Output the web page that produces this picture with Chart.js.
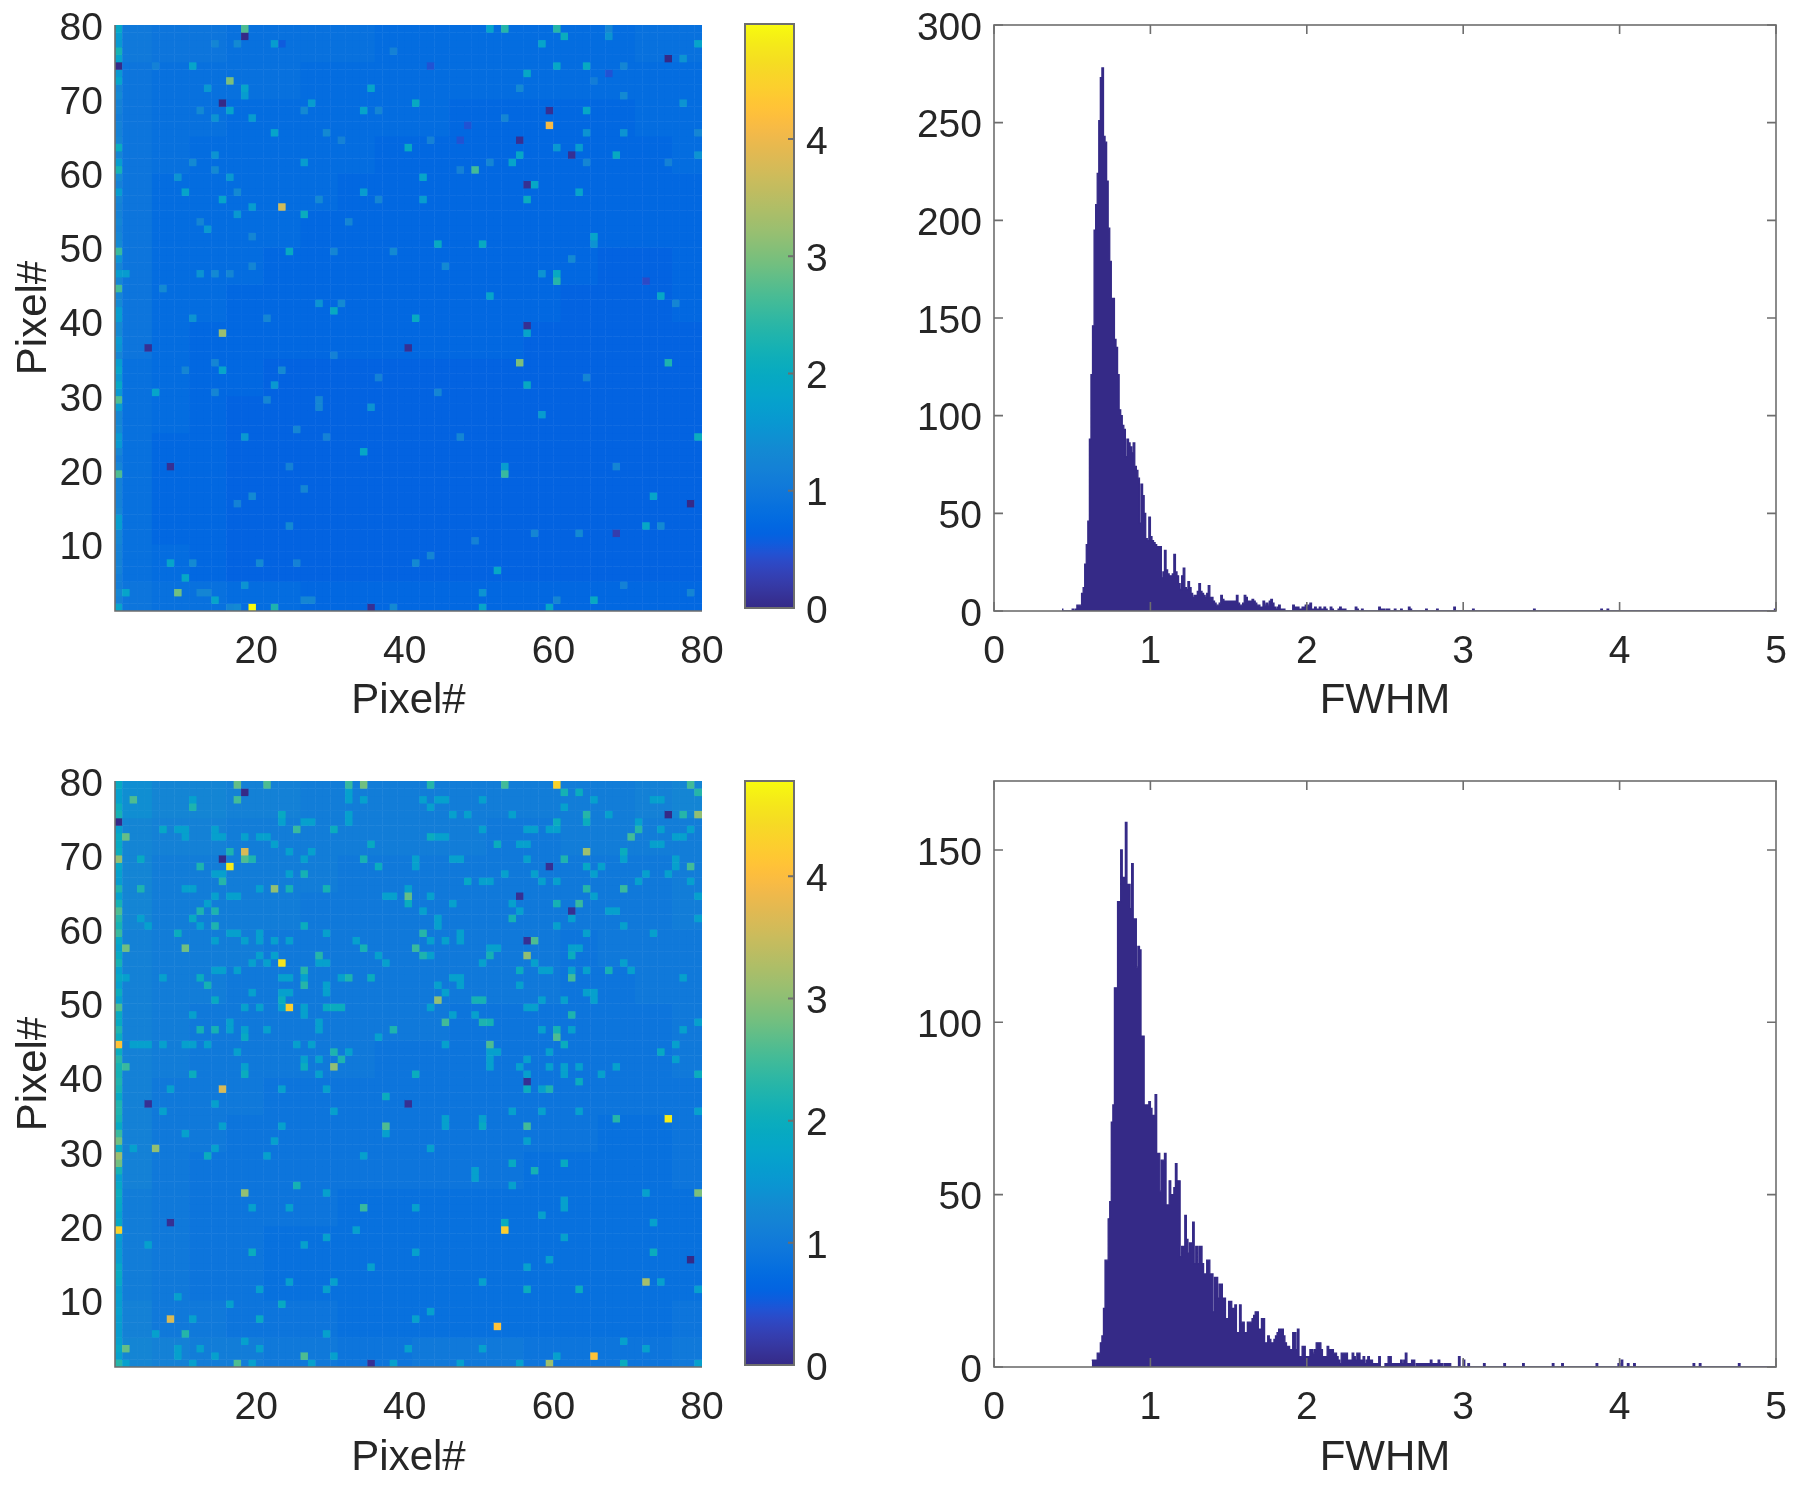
<!DOCTYPE html>
<html>
<head>
<meta charset="utf-8">
<title>FWHM maps</title>
<script src="https://cdn.jsdelivr.net/npm/chart.js@4/dist/chart.umd.min.js"></script>
<style>
  html, body { margin: 0; padding: 0; background: #fff; }
  #page { position: relative; width: 1800px; height: 1487px; overflow: hidden; }
  canvas { position: absolute; }
</style>
</head>
<body>
<div id="page">
  <canvas id="map1" width="740" height="727" style="left:0px;top:0px"></canvas>
  <canvas id="bar1" width="130" height="660" style="left:730px;top:0px"></canvas>
  <canvas id="hist1" width="920" height="727" style="left:880px;top:0px"></canvas>
  <canvas id="map2" width="740" height="728" style="left:0px;top:756px"></canvas>
  <canvas id="bar2" width="130" height="660" style="left:730px;top:756px"></canvas>
  <canvas id="hist2" width="920" height="728" style="left:880px;top:756px"></canvas>
</div>
<script>
const pixelTicks = [10, 20, 30, 40, 50, 60, 70, 80];
const pixelTicksX = [20, 40, 60, 80];
const barTicks1 = [0, 1, 2, 3, 4];
const barMax1 = 4.98;
const barMax2 = 4.78;
const histXTicks = [0, 1, 2, 3, 4, 5];
const histYTicks1 = [0, 50, 100, 150, 200, 250, 300];
const histYTicks2 = [0, 50, 100, 150];
const histYMax1 = 300;
const histYMax2 = 170;

// background level read as 16x16 blocks (x100), top row first, the speckle is only in the cell lists below
const levels1 = [
  [105,98,95,92,92,90,88,85,85,85,82,82,85,85,88,92],
  [100,92,90,88,88,85,82,80,80,80,78,78,78,80,82,85],
  [98,90,88,85,85,82,80,78,78,76,76,76,76,76,78,80],
  [95,88,85,85,82,80,78,76,76,74,74,74,74,74,76,78],
  [95,85,85,82,80,78,76,75,74,74,74,74,72,72,74,76],
  [95,85,82,80,78,76,75,74,74,74,74,74,72,72,72,74],
  [95,85,80,78,76,75,74,74,74,72,72,72,72,70,70,72],
  [95,82,78,76,75,74,74,72,72,72,72,72,70,70,70,72],
  [95,80,76,74,74,72,72,72,72,72,72,70,70,68,68,70],
  [92,78,74,72,70,70,70,70,70,70,70,68,68,66,66,68],
  [92,78,72,70,70,68,68,68,68,68,68,66,66,66,66,66],
  [90,76,72,70,68,66,66,66,66,66,66,66,66,66,66,66],
  [90,76,72,68,66,66,66,66,66,66,66,66,66,66,66,66],
  [88,76,72,68,66,66,66,66,66,66,66,66,66,66,66,68],
  [90,78,74,70,68,68,66,66,66,66,66,68,66,66,66,68],
  [100,92,88,82,78,75,74,74,76,75,76,75,74,74,74,75]
];
const levels2 = [
  [135,125,122,118,115,112,112,112,110,108,108,108,110,112,115,122],
  [125,118,115,112,110,108,108,106,105,105,102,102,105,106,108,112],
  [122,112,110,108,108,105,104,102,102,100,100,100,100,102,104,108],
  [120,110,108,106,105,104,102,100,100,100,98,98,98,100,102,105],
  [118,108,106,105,104,102,100,100,100,98,98,98,96,98,100,104],
  [118,108,105,104,102,100,100,98,98,98,98,98,96,96,98,102],
  [118,108,104,102,100,100,98,98,98,96,96,96,94,94,96,100],
  [118,106,102,100,98,98,98,96,96,96,96,94,94,92,94,98],
  [118,104,100,98,96,96,96,96,96,96,94,94,92,90,92,94],
  [115,102,98,96,94,94,94,92,92,92,92,90,90,88,88,92],
  [115,100,96,94,92,92,90,90,90,90,90,88,88,88,88,90],
  [112,100,96,92,90,90,88,88,88,88,88,88,86,86,86,88],
  [112,100,94,92,88,88,88,88,88,86,86,86,86,86,86,88],
  [110,100,96,90,88,88,86,86,86,86,86,86,86,86,86,88],
  [115,104,98,94,92,90,88,88,88,88,88,88,86,86,86,90],
  [125,118,112,105,100,98,96,96,98,98,98,96,96,96,96,98]
];

// first column of each map, row 79 down to row 1
const edge1 = [1.9,1.7,1.6,2.2,1.8,.05,1.6,1.8,1.3,1.4,1.2,1.2,1.1,1.2,1.2,1.3,2.1,1.3,1.7,2.2,1.4,1.2,1.7,1.3,1.2,1.2,1.3,1.2,1.3,1.4,2.5,1.5,1.3,1.7,1.3,2.6,1.3,1.4,1.7,1.7,1.4,1.4,1.6,1.5,1.3,1.7,1.8,1.6,1.9,1.6,2.7,1.7,1.3,1.3,1.4,1.6,1.6,1.3,1.1,1.3,2.7,1.2,1.2,1.2,1.2,1.3,1.7,1.7,1.3,1.3,1.2,1.2,1.2,1.2,1.1,1.1,1.3,1.2,1.8];
const edge2 = [1.9,1.7,1.7,2.0,2.1,.05,1.7,1.9,1.9,2.0,3.0,1.8,1.7,1.6,2.2,1.7,2.1,2.6,2.3,2.1,2.4,1.8,1.7,1.9,2.1,1.7,1.8,1.7,2.0,1.7,2.6,1.9,1.9,2.2,2.0,4.1,2.0,2.3,2.1,2.1,2.2,2.1,1.9,2.2,2.2,2.1,1.9,2.4,2.8,2.0,3.1,2.8,2.1,1.7,1.8,2.0,1.9,1.8,1.7,1.8,4.3,1.6,1.5,1.6,1.6,1.8,1.9,1.8,1.6,1.7,1.6,1.7,1.6,1.6,1.6,1.7,1.8,1.7,2.3];

// [column, row, value] of the cells that stand out in the maps
const cells1 = [
  [1,74,.05],[18,78,.05],[15,69,.05],[75,75,.05],[59,68,.1],[55,64,.1],[62,62,.1],[56,58,.1],[56,39,.1],[5,36,.1],[40,36,.1],[8,20,.1],[35,1,.1],[78,15,.05],[68,11,.3],
  [19,1,4.98],[59,66,4.1],[23,55,3.7],[15,38,3.2],[16,72,3.0],[55,34,3.0],[9,3,2.9],[18,79,2.7],[49,60,2.6],[53,19,2.5],[60,45,2.4],[53,79,2.4],[60,79,2.4],[22,1,2.3],[75,34,2.3],
  [26,54,2.1],[24,49,2.0],[30,41,2.0],[61,78,2.1],[79,24,2.1],[56,31,2.0],[56,56,2.1],[65,2,2.0],[60,46,2.0],[64,74,2.0],[41,69,2.0],[68,62,2.0],[44,50,2.0],[50,50,2.0],[41,40,2.0],[40,63,2.0],
  [11,74,1.8],[18,71,1.8],[18,70,1.7],[16,68,1.8],[19,67,1.7],[22,65,1.8],[35,71,1.8],[34,68,1.8],[27,69,1.7],[10,57,1.8],[15,56,1.8],[19,55,1.7],[34,57,1.7],[2,46,1.7],[26,61,1.7],[51,79,1.8],[58,77,1.8],[60,74,1.9],[56,73,1.9],[64,68,1.9],[55,62,1.9],[54,61,1.8],[42,59,1.8],[57,58,1.9],[63,57,1.8],[42,56,1.7],[65,51,1.8],[51,43,1.8],[74,43,1.9],[56,38,1.8],[79,77,1.8],[10,5,1.9],[8,7,1.8],[2,3,1.8],[15,33,1.8],[6,30,1.8],[34,22,1.9],[14,2,1.8],[58,27,1.7],[53,20,1.7],[73,16,1.8],[72,12,1.9],[52,6,1.9],[59,1,1.9],[50,1,1.8],
  [14,77,1.3],[17,77,1.4],[22,77,1.7],[23,77,.55],[38,76,1.2],[6,74,1.2],[13,71,1.6],[14,67,1.5],[12,68,1.4],[26,68,1.4],[36,68,1.3],[29,65,1.4],[31,64,1.2],[11,61,1.4],[14,62,1.5],[14,60,1.4],[9,59,1.5],[16,59,1.6],[17,57,1.4],[28,56,1.4],[36,56,1.3],[12,53,1.3],[17,54,1.6],[13,52,1.6],[32,53,1.3],[19,51,1.3],[38,49,1.4],[30,49,1.3],[19,47,1.3],[12,46,1.5],[14,46,1.4],[16,46,1.3],[7,44,1.4],[28,42,1.5],[31,42,1.4],[11,40,1.5],[21,40,1.3],
  [67,78,1.5],[67,79,1.3],[77,75,1.5],[69,74,1.3],[55,71,1.4],[65,72,1.1],[69,70,1.4],[77,69,1.5],[69,65,1.5],[64,65,1.5],[79,65,1.3],[63,63,1.7],[60,63,1.6],[79,62,1.5],[75,61,1.2],[64,61,1.3],[51,61,1.3],[53,67,1.3],[43,64,1.2],[47,60,1.2],[65,50,1.5],[62,48,1.4],[45,47,1.4],[58,46,1.5],[76,42,1.3],
  [72,45,.45],[47,64,.5],[48,66,.5],[43,74,.5],[67,73,.5],
  [64,32,1.3],[44,30,1.3],[47,24,1.3],[68,20,1.3],[57,11,1.3],[63,11,1.4],[74,12,1.4],[43,8,1.3],[41,7,1.4],[69,4,1.2],[78,3,1.3],[49,10,1.2],[60,2,1.3],[50,3,1.5],
  [11,7,1.4],[20,7,1.4],[25,7,1.2],[18,4,1.5],[12,3,1.3],[13,3,1.3],[26,2,1.3],[27,2,1.3],[16,1,1.3],[17,1,1.4],[38,1,1.4],[24,12,1.4],[19,16,1.4],[17,15,1.2],[26,17,1.3],[24,20,1.2],[25,25,1.3],[18,24,1.6],[29,24,1.2],[36,32,1.2],[28,29,1.3],[28,28,1.3],[35,28,1.5],[21,29,1.3],[14,30,1.3],[22,31,1.6],[23,33,1.4],[10,33,1.3],[30,35,1.2],[14,34,1.3]
];
// lighter tiles of the second map, all about the same teal
const mildValue2 = 1.65;
const mild2 = [
  [11,77],[9,73],[10,73],[10,72],[14,73],[14,72],[15,72],[18,72],[20,72],[21,72],[23,74],[26,74],[27,74],[32,75],[32,74],[32,77],[34,77],[32,78],[41,69],[41,68],[26,69],[27,70],[24,70],[22,71],
  [14,67],[15,67],[24,67],[20,65],[10,65],[11,65],[16,64],[17,64],[38,64],[37,64],[13,63],[14,64],[4,61],[5,60],[12,60],[16,59],[17,59],[20,59],[29,59],[14,58],[18,58],[20,58],[22,58],[24,58],[33,58],[20,56],[22,56],[21,55],[19,55],[28,55],[29,55],[36,56],[37,55],[14,54],[15,54],[17,54],[12,53],[2,53],[7,53],[23,53],[24,53],[26,53],[31,53],[29,52],[29,51],[19,51],[23,51],[24,51],[26,49],[18,49],[20,49],[23,49],[26,48],[11,48],[16,47],[16,46],[28,47],[28,46],[21,46],[18,46],[4,44],[3,44],[5,44],[7,44],[10,44],[11,44],[13,44],[25,44],[27,44],[36,45],[17,43],[32,43],[26,42],[28,42],[26,41],[18,41],[28,40],[8,38],[23,38],[29,38],
  [42,77],[44,77],[45,77],[50,77],[65,77],[73,77],[74,77],[43,76],[61,76],[46,75],[48,75],[54,75],[67,75],[71,74],[56,73],[57,73],[59,73],[60,73],[50,73],[74,73],[78,73],[44,72],[45,72],[77,72],[76,72],[73,71],[74,71],[55,71],[56,71],[69,69],[46,69],[47,69],[56,69],[76,69],[41,69],[64,68],[66,68],[76,68],[53,67],[57,67],[65,67],[72,67],[75,67],[50,66],[51,66],[58,66],[60,66],[71,66],[78,66],[40,65],[43,64],[65,64],[79,64],[46,63],[54,63],[55,62],[67,62],[68,62],[42,62],[79,61],[62,61],[60,60],[69,60],[44,61],[44,60],[47,59],[47,58],[64,59],[73,59],[43,58],[45,58],[62,57],[63,57],[51,57],[52,57],[43,56],[50,55],[69,55],[57,55],[55,54],[58,54],[59,54],[62,54],[64,54],[70,54],[77,53],[46,53],[47,53],[44,52],[47,52],[55,52],[45,51],[64,51],[65,51],[61,50],[58,50],[65,50],[43,49],[56,49],[57,49],[46,48],[49,48],[79,47],[77,46],[58,46],[62,46],[45,44],[76,44],[51,43],[52,43],[59,43],[51,42],[76,42],[51,41],[55,41],[59,41],[61,41],[63,41],[56,42],[61,40],[66,40],[68,41],[56,40],[58,38],
  [7,35],[14,36],[15,33],[23,33],[10,32],[37,32],[22,31],[45,34],[45,33],[50,34],[30,35],[54,35],[58,35],[63,35],[79,35],[56,31],[43,30],[14,30],[3,30],[34,29],[21,29],[54,28],[61,28],[49,27],[49,26],[25,25],[54,25],[29,24],[72,24],[61,23],[61,22],[41,22],[19,22],[24,22],[53,20],[58,21],[73,20],[33,19],[29,18],[61,18],[5,17],[26,17],[41,16],[73,16],[59,15],[56,14],[35,14],[24,12],[30,12],[50,12],[74,12],[79,11],[20,11],[29,11],[9,10],[16,9],[23,9],[43,8],[11,7],[41,7],[29,5],[6,5],[18,4],[69,4],[9,3],[12,3],[20,3],[40,3],[50,3],[72,3],[9,2],[14,2],[60,2],[30,2],[2,1],[11,1],[19,1],[27,1],[38,1],[47,1],[55,1],[79,1]
];
const cells2 = [
  [18,78,.05],[1,74,.05],[15,69,.05],[75,75,.05],[59,68,.1],[55,64,.1],[62,62,.1],[56,58,.1],[56,39,.1],[5,36,.1],[40,36,.1],[8,20,.1],[78,15,.05],[35,1,.1],
  [16,68,4.6],[75,34,4.6],[23,55,4.5],[60,79,4.3],[1,19,4.3],[24,49,4.2],[53,19,4.2],[1,44,4.1],[52,6,4.1],[65,2,4.1],[18,70,3.6],[15,38,3.6],[8,7,3.6],[72,12,3.2],[64,70,3.1],[1,29,3.1],
  [22,65,3.0],[30,41,3.0],[1,69,3.0],[79,75,3.0],[56,56,3.0],[44,50,3.0],[6,30,3.0],[18,24,3.0],[79,24,2.9],[10,57,2.8],[2,57,2.8],[34,79,2.8],[1,31,2.8],[2,72,2.7],[17,79,2.7],[40,64,2.7],[37,33,2.6],[3,77,2.6],[21,79,2.6],[18,69,2.6],[57,58,2.6],[60,45,2.6],[51,44,2.6],[26,2,2.6],[17,1,2.6],[59,1,3.1],[2,3,2.7],
  [17,77,2.5],[53,79,2.5],[78,79,2.5],[78,68,2.5],[70,72,2.5],[62,53,2.5],[45,47,2.5],[56,33,2.5],[32,79,2.4],[25,73,2.4],[2,41,2.4],[69,65,2.4],[63,63,2.4],[41,57,2.4],[34,22,2.4],[19,69,2.2],[11,76,2.2],[16,70,2.2],[15,66,2.3],[12,68,2.2],[14,62,2.2],[12,62,2.2],[14,60,2.2],[26,54,2.3],[26,52,2.3],[28,56,2.3],[32,53,2.2],[4,65,2.2],[12,46,2.1],[14,46,2.1],[38,46,2.2],[30,43,2.2],[31,42,2.2],[43,79,2.3],[79,78,2.3],[77,75,2.3],[64,75,2.3],[71,73,2.3],[42,59,2.3],[42,56,2.2],[64,65,2.3],[68,34,2.3],[10,5,2.3],[50,47,2.2],[62,48,2.2],[59,38,2.2],
  [13,52,2.1],[12,53,2.0],[35,53,2.0],[34,57,2.1],[23,50,2.0],[29,49,1.9],[30,49,2.0],[31,49,2.0],[24,65,2.1],[29,65,2.1],[26,67,2.1],[34,69,2.1],[36,68,2.0],[35,71,1.9],[30,73,2.0],[23,75,1.9],[7,73,1.8],[4,69,1.9],[9,59,2.0],[11,61,1.9],[26,60,2.0],[14,50,1.9],[18,45,1.9],[26,41,2.0],[18,40,2.0],[11,40,2.0],[40,63,2.0],[37,37,2.0],[61,78,2.1],[63,78,2.0],[64,74,2.0],[60,74,2.0],[43,72,2.0],[52,71,2.0],[69,70,2.0],[61,69,2.2],[60,63,2.1],[54,61,2.1],[51,56,2.1],[62,56,2.0],[67,54,2.1],[55,54,2.0],[49,50,2.1],[50,50,2.1],[51,47,2.1],[60,46,2.1],[61,44,2.0],[74,43,1.9],[41,40,2.0],[79,40,2.0],[63,39,2.0],[56,38,2.0],[57,27,2.1],[54,28,1.9],[25,25,2.1],[73,16,2.0],[63,11,2.0],[56,11,2.0],[69,1,2.0],[19,16,2.0],[53,20,2.0],[13,29,2.0],[20,7,1.9],[23,9,1.9],[50,33,1.9],[61,28,1.9],[64,68,1.8],[48,66,1.8]
];

// counts per 0.01 FWHM bin, first bin at 0.43 and 0.62
const histStart1 = 43;
const counts1 = [1,0,0,0,0,0,0,1,0,1,3,3,3,9,12,24,34,46,88,121,146,195,208,224,251,273,278,243,240,220,196,179,160,160,139,135,121,103,100,95,93,79,88,86,84,81,86,74,72,68,45,65,59,50,37,36,48,38,36,35,34,33,33,33,17,20,31,21,19,18,18,19,29,20,18,14,11,18,22,12,11,15,12,9,7,8,8,10,14,10,9,8,7,9,13,7,7,5,4,3,3,4,8,6,5,5,5,5,5,5,5,5,8,4,3,3,4,8,7,5,5,5,6,5,4,3,3,2,2,5,3,4,3,5,6,4,2,1,2,3,1,1,1,0,0,0,0,0,3,2,2,2,1,1,2,2,3,2,3,4,1,1,2,1,1,2,1,1,2,1,0,0,2,1,0,0,0,1,2,1,1,1,0,0,0,0,0,0,2,1,0,0,1,0,0,0,0,0,0,0,0,0,0,2,1,1,1,0,1];
const tail1 = [[2.53,1],[2.56,1],[2.6,1],[2.65,2],[2.66,1],[2.76,1],[2.83,1],[2.94,2],[3.06,1],[3.45,1],[3.88,1],[3.92,1],[4.99,1]];
const histStart2 = 62;
const counts2 = [2,2,2,2,4,4,7,9,17,31,31,43,48,71,76,110,110,135,135,150,142,142,158,140,140,133,146,130,130,116,122,121,96,96,76,76,76,77,75,73,73,79,62,62,51,60,60,62,47,47,54,50,50,52,59,54,54,32,35,35,44,37,33,36,36,42,30,35,30,35,35,30,27,27,31,31,27,27,16,26,26,20,24,24,20,20,14,14,19,19,17,17,18,10,10,18,13,13,10,10,13,13,13,14,15,16,16,11,11,14,14,7,7,9,8,7,7,8,9,10,11,11,11,9,7,6,6,5,5,10,10,5,11,3,3,6,6,3,3,3,5,5,4,5,7,7,7,5,3,3,3,6,5,5,5,4,4,3,2,1,4,4,4,4,2,2,2,4,3,2,4,4,2,2,3,1,2,3,2,2,1,1,1,1,3,0,0,0,1,1,3,3,1,1,1,1,1,1,2,1,2,4,1,1,1,2,2,0,1,1,1,1,1,0,1,1,1,2,1,1,1,1,2,1,1,0,1,1,1,1];
const tail2 = [[2.97,3],[3.0,2],[3.03,1],[2.75,1],[2.8,1],[2.86,1],[2.9,1],[3.13,1],[3.26,1],[3.38,1],[3.57,1],[3.63,1],[3.85,1],[3.99,1],[4.02,2],[4.06,1],[4.1,1],[4.47,1],[4.51,1],[4.77,1]];

const parula = [[.2081,.1663,.5292],[.2116,.1898,.5777],[.2123,.2138,.627],[.2081,.2386,.6771],[.1959,.2645,.7279],[.1707,.2919,.7792],[.1253,.3242,.8303],[.0591,.3598,.8683],[.0117,.3875,.882],[.006,.4086,.8828],[.0165,.4266,.8786],[.0329,.443,.872],[.0498,.4586,.8641],[.0629,.4737,.8554],[.0723,.4887,.8467],[.0779,.504,.8384],[.0793,.52,.8312],[.0749,.5375,.8263],[.0641,.557,.824],[.0488,.5772,.8228],[.0343,.5966,.8199],[.0265,.6137,.8135],[.0239,.6287,.8038],[.0231,.6418,.7913],[.0228,.6535,.7768],[.0267,.6642,.7607],[.0384,.6743,.7436],[.059,.6838,.7254],[.0843,.6928,.7062],[.1133,.7015,.6859],[.1453,.7098,.6646],[.1801,.7177,.6424],[.2178,.725,.6193],[.2586,.7317,.5954],[.3022,.7376,.5712],[.3482,.7424,.5473],[.3953,.7459,.5244],[.442,.7481,.5033],[.4871,.7491,.484],[.53,.7491,.4661],[.5709,.7485,.4494],[.6099,.7473,.4337],[.6473,.7456,.4188],[.6834,.7435,.4044],[.7184,.7411,.3905],[.7525,.7384,.3768],[.7858,.7356,.3633],[.8185,.7327,.3498],[.8507,.7299,.336],[.8824,.7274,.3217],[.9139,.7258,.3063],[.945,.7261,.2886],[.9739,.7314,.2666],[.9938,.7455,.2403],[.999,.7653,.2164],[.9955,.7861,.1967],[.988,.8066,.1794],[.9789,.8271,.1633],[.9697,.8481,.1475],[.9626,.8705,.1309],[.9589,.8949,.1132],[.9598,.9218,.0948],[.9661,.9514,.0755],[.9763,.9831,.0538]];

const FONT = '"Liberation Sans", Arial, sans-serif';
const TEXT = '#262626';
const AXIS = '#6e6e6e';
const HIST = '#352a87';

function parulaColor(t) {
  const c = parula[Math.min(63, Math.max(0, Math.floor(t * 64)))];
  return `rgb(${Math.round(c[0] * 255)},${Math.round(c[1] * 255)},${Math.round(c[2] * 255)})`;
}

// the cells of one map, column/row run from 1 to 79 and a cell spans i..i+1
function buildCells(levels, edge, mild, mildValue, list) {
  const found = {};
  for (let i = 1; i <= 79; i++) {
    for (let j = 1; j <= 79; j++) {
      const row = Math.min(15, Math.floor((79 - j) / 5));
      const col = Math.min(15, Math.floor((i - 1) / 5));
      found[i + '_' + j] = levels[row][col] / 100;
    }
  }
  edge.forEach((v, k) => { found['1_' + (79 - k)] = v; });
  mild.forEach(c => { found[c[0] + '_' + c[1]] = mildValue; });
  list.forEach(c => { found[c[0] + '_' + c[1]] = c[2]; });
  return Object.keys(found).map(k => {
    const p = k.split('_').map(Number);
    return { x: p[0] + 0.5, y: p[1] + 0.5, v: found[k] };
  });
}

function buildHist(start, counts, tail) {
  const bins = {};
  for (let b = start; b < 500; b++) bins[b] = 0;
  counts.forEach((c, k) => { bins[start + k] = c; });
  tail.forEach(t => { bins[Math.floor(t[0] * 100)] = t[1]; });
  return Object.keys(bins).map(Number).sort((a, b) => a - b).map(b => ({ x: (b + 0.5) / 100, y: bins[b] }));
}

// MATLAB axes: box round the plot, ticks pointing inwards
const boxPlugin = {
  id: 'box',
  afterDraw(chart, args, opts) {
    const { ctx, chartArea: a, scales } = chart;
    ctx.save();
    ctx.strokeStyle = AXIS;
    ctx.lineWidth = opts.width || 1.6;
    if (opts.full) {
      ctx.strokeRect(a.left, a.top, a.right - a.left, a.bottom - a.top);
    } else {
      ctx.beginPath();
      ctx.moveTo(a.left, a.top);
      ctx.lineTo(a.left, a.bottom);
      ctx.lineTo(a.right, a.bottom);
      ctx.stroke();
    }
    const len = opts.tick || 0;
    if (len) {
      ctx.beginPath();
      if (scales.x && scales.x.options.display !== false) {
        scales.x.ticks.forEach(t => {
          const x = scales.x.getPixelForValue(t.value);
          ctx.moveTo(x, a.bottom); ctx.lineTo(x, a.bottom - len);
          ctx.moveTo(x, a.top); ctx.lineTo(x, a.top + len);
        });
      }
      scales.y.ticks.forEach(t => {
        const y = scales.y.getPixelForValue(t.value);
        ctx.moveTo(a.right, y); ctx.lineTo(a.right - len, y);
        if (!opts.rightOnly) { ctx.moveTo(a.left, y); ctx.lineTo(a.left + len, y); }
      });
      ctx.stroke();
    }
    ctx.restore();
  }
};

function axisOpts(min, max, ticks, title, titlePad, side, size) {
  return {
    type: 'linear', min, max,
    grid: { display: false, drawTicks: false },
    border: { display: false },
    afterBuildTicks: s => { s.ticks = ticks.map(v => ({ value: v })); },
    afterFit: s => {
      if (side === 'w') s.width = size; else s.height = size;
      // labels may stick out of the plot box, the layout must not shrink for them
      s.paddingTop = s.paddingBottom = s.paddingLeft = s.paddingRight = 0;
    },
    ticks: {
      autoSkip: false, maxRotation: 0,
      padding: side === 'w' ? 12 : 18,
      labelOffset: side === 'w' ? 4 : 0,
      color: TEXT, font: { family: FONT, size: 39 }, callback: v => String(v)
    },
    title: { display: !!title, text: title, color: TEXT, padding: titlePad, font: { family: FONT, size: 42 } }
  };
}

function drawMap(id, cells, vmax, bottomH) {
  new Chart(document.getElementById(id), {
    type: 'scatter',
    data: { datasets: [{
      data: cells,
      pointStyle: 'rect',
      pointBorderWidth: 0,
      pointBorderColor: 'transparent',
      pointRadius: c => {
        const s = c.chart.scales.x;
        return (s.getPixelForValue(2) - s.getPixelForValue(1) + 0.5) / Math.SQRT2;
      },
      pointBackgroundColor: c => parulaColor((c.raw ? c.raw.v : 0) / vmax)
    }] },
    options: {
      responsive: false, animation: false, devicePixelRatio: 1,
      layout: { padding: { top: 25, right: 38, left: 0, bottom: 0 } },
      plugins: { legend: { display: false }, tooltip: { enabled: false }, box: { full: false } },
      scales: {
        x: axisOpts(1, 80, pixelTicksX, 'Pixel#', { top: 4, bottom: 0 }, 'h', bottomH),
        y: axisOpts(1, 80, pixelTicks, 'Pixel#', { top: 9, bottom: 0 }, 'w', 115)
      }
    },
    plugins: [boxPlugin]
  });
}

function drawBar(id, vmax, topPad, plotH) {
  new Chart(document.getElementById(id), {
    type: 'bar',
    data: { labels: [''], datasets: [{
      data: [[0, vmax]],
      categoryPercentage: 1, barPercentage: 1,
      backgroundColor: c => {
        const { chartArea: a, ctx } = c.chart;
        if (!a) return parulaColor(0);
        const g = ctx.createLinearGradient(0, a.bottom, 0, a.top);
        parula.forEach((_, k) => g.addColorStop(k / 63, parulaColor((k + 0.5) / 64)));
        return g;
      }
    }] },
    options: {
      responsive: false, animation: false, devicePixelRatio: 1,
      layout: { padding: { top: topPad, left: 15, right: 0, bottom: 660 - topPad - plotH } },
      plugins: { legend: { display: false }, tooltip: { enabled: false }, box: { full: true, tick: 6, rightOnly: true, width: 2 } },
      scales: {
        x: { display: false },
        y: Object.assign(axisOpts(0, vmax, barTicks1, '', 0, 'w', 66), { position: 'right' })
      }
    },
    plugins: [boxPlugin]
  });
}

function drawHist(id, data, yMax, yTicks, bottomH) {
  new Chart(document.getElementById(id), {
    type: 'scatter',
    data: { datasets: [{
      data,
      showLine: true,
      stepped: 'middle',
      fill: 'origin',
      pointRadius: 0,
      borderWidth: 1.3,
      borderColor: HIST,
      backgroundColor: HIST
    }] },
    options: {
      responsive: false, animation: false, devicePixelRatio: 1,
      layout: { padding: { top: 25, right: 24, left: 0, bottom: 0 } },
      plugins: { legend: { display: false }, tooltip: { enabled: false }, box: { full: true, tick: 9 } },
      scales: {
        x: axisOpts(0, 5, histXTicks, 'FWHM', { top: 4, bottom: 0 }, 'h', bottomH),
        y: axisOpts(0, yMax, yTicks, '', 0, 'w', 114)
      }
    },
    plugins: [boxPlugin]
  });
}

drawMap('map1', buildCells(levels1, edge1, [], 0, cells1), barMax1, 116);
drawBar('bar1', barMax1, 24, 584);
drawHist('hist1', buildHist(histStart1, counts1, tail1), histYMax1, histYTicks1, 116);
drawMap('map2', buildCells(levels2, edge2, mild2, mildValue2, cells2), barMax2, 117);
drawBar('bar2', barMax2, 25, 584);
drawHist('hist2', buildHist(histStart2, counts2, tail2), histYMax2, histYTicks2, 117);
</script>
</body>
</html>
